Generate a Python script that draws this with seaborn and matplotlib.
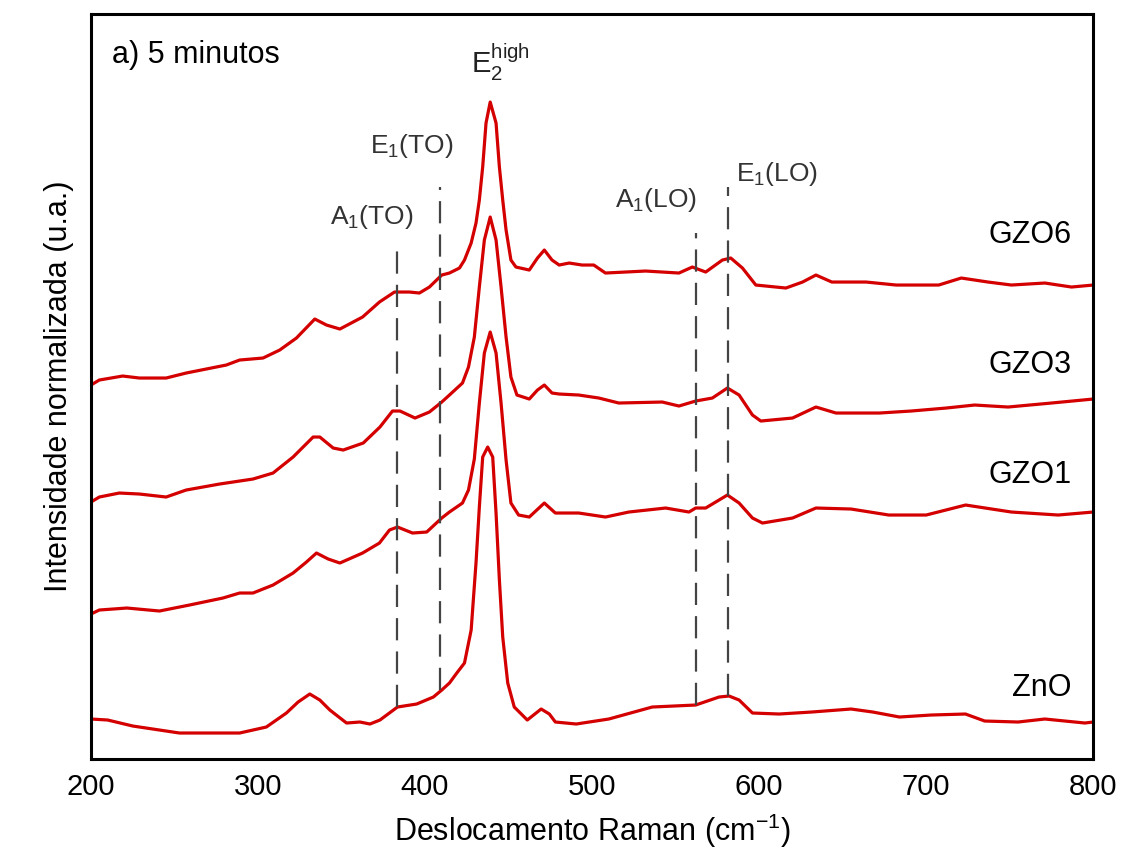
import numpy as np
import pandas as pd
import matplotlib
matplotlib.use('Agg')
import matplotlib.pyplot as plt
import seaborn as sns

# Raman spectra (x in cm-1, normalized intensity incl. offset)
zno_x = [200, 210, 225, 241, 253, 270, 289, 305, 317, 324, 331, 337, 343, 353, 361, 367, 373,
         383.5, 395, 405, 410, 414.6, 419, 423.6, 427.6, 430.5, 432.5, 434.5, 437.5, 440.5,
         442.5, 444.5, 446.5, 449.5, 453.4, 461.2, 469.5, 474.4, 478, 490.5, 510, 536, 562,
         576, 582, 588, 596, 612, 631.5, 655, 668, 684, 703, 723.5, 735, 755, 771, 795, 800]
zno_y = [0.40, 0.39, 0.33, 0.29, 0.26, 0.26, 0.26, 0.32, 0.46, 0.57, 0.65, 0.59, 0.49, 0.36,
         0.37, 0.35, 0.39, 0.52, 0.55, 0.62, 0.69, 0.76, 0.86, 0.96, 1.29, 1.96, 2.52, 3.02,
         3.12, 3.02, 2.46, 1.79, 1.22, 0.76, 0.52, 0.39, 0.50, 0.45, 0.37, 0.35, 0.40, 0.52,
         0.54, 0.62, 0.63, 0.59, 0.46, 0.45, 0.47, 0.50, 0.47, 0.42, 0.44, 0.45, 0.38, 0.37,
         0.40, 0.36, 0.37]

gzo1_x = [200, 205, 221.5, 241, 259, 279, 289, 297, 309, 321, 329, 335, 342, 349, 362.6, 372.7,
          378.7, 383.5, 392.5, 401, 410, 414.6, 422.4, 426, 429.5, 432.5, 435.5, 439, 442.5,
          445.5, 448.5, 451.4, 456, 462.4, 471.4, 478, 492, 508, 522, 544, 558, 562, 568, 581,
          588, 596, 602, 620, 634, 655, 677.6, 700, 723.6, 751, 779, 800]
gzo1_y = [1.45, 1.49, 1.51, 1.48, 1.54, 1.61, 1.66, 1.66, 1.74, 1.86, 1.97, 2.06, 2.00, 1.96,
          2.06, 2.16, 2.29, 2.32, 2.26, 2.27, 2.41, 2.47, 2.56, 2.69, 3.00, 3.56, 4.06, 4.27,
          4.06, 3.56, 2.99, 2.56, 2.44, 2.42, 2.56, 2.46, 2.46, 2.42, 2.47, 2.51, 2.47, 2.51,
          2.51, 2.64, 2.56, 2.41, 2.36, 2.41, 2.51, 2.50, 2.44, 2.44, 2.54, 2.47, 2.44, 2.47]

gzo3_x = [200, 205, 217, 229, 245, 257, 277, 297, 309, 321, 333, 337, 345, 351, 363, 373, 380.5,
          385, 394, 402.6, 410, 414.6, 422.4, 426, 429.5, 432.5, 435.5, 439, 442.5, 445.5,
          448.5, 451.4, 455, 462.4, 467.3, 471.4, 476, 480.3, 492, 504, 516, 542, 552, 562,
          572, 581, 588, 596, 601, 620, 634, 646, 672, 691, 712, 729, 749, 775, 800]
gzo3_y = [2.57, 2.62, 2.66, 2.65, 2.62, 2.69, 2.75, 2.80, 2.86, 3.02, 3.22, 3.22, 3.11, 3.09,
          3.16, 3.32, 3.48, 3.48, 3.41, 3.47, 3.57, 3.64, 3.76, 3.92, 4.22, 4.72, 5.19, 5.42,
          5.19, 4.72, 4.22, 3.82, 3.64, 3.60, 3.69, 3.74, 3.66, 3.65, 3.64, 3.61, 3.56, 3.57,
          3.53, 3.58, 3.61, 3.71, 3.64, 3.44, 3.38, 3.41, 3.52, 3.46, 3.46, 3.48, 3.51, 3.54,
          3.52, 3.56, 3.60]

gzo6_x = [200, 205, 219, 229, 245, 257, 281, 289, 303, 313, 323, 334, 341, 349, 362.6, 372.7,
          381.7, 390.7, 396.6, 402.6, 410, 414.6, 420.6, 423.6, 427.6, 430.5, 432.5, 434.5,
          436.5, 439, 442.5, 444.5, 446.5, 448.5, 451.4, 454.4, 462.4, 467.3, 471.4, 476,
          480.3, 486.3, 494, 501, 508, 532, 552, 560, 568, 578, 583, 590, 598, 616, 626, 634,
          643.5, 664, 682, 707.5, 721, 737, 751, 771, 787, 800]
gzo6_y = [3.74, 3.79, 3.83, 3.81, 3.81, 3.86, 3.94, 3.99, 4.01, 4.09, 4.21, 4.40, 4.34, 4.30,
          4.42, 4.57, 4.67, 4.67, 4.66, 4.72, 4.84, 4.86, 4.91, 4.99, 5.16, 5.36, 5.59, 5.92,
          6.36, 6.57, 6.36, 5.92, 5.59, 5.29, 4.99, 4.92, 4.89, 5.01, 5.09, 4.99, 4.94, 4.96,
          4.94, 4.94, 4.86, 4.88, 4.86, 4.92, 4.87, 4.99, 5.01, 4.91, 4.74, 4.71, 4.77, 4.84,
          4.77, 4.77, 4.74, 4.74, 4.81, 4.77, 4.74, 4.76, 4.72, 4.74]

samples = ['ZnO', 'GZO1', 'GZO3', 'GZO6']
sample_x = [zno_x, gzo1_x, gzo3_x, gzo6_x]
sample_y = [zno_y, gzo1_y, gzo3_y, gzo6_y]
label_y = [0.71, 2.84, 3.94, 5.24]

# Raman modes: position, dashed line range, label and label position
mode_pos = [383.5, 409, 562, 581.5]
mode_ymin = [0.52, 0.69, 0.54, 0.63]
mode_ymax = [5.11, 5.72, 5.26, 5.72]
mode_labels = ['A$_1$(TO)', 'E$_1$(TO)', 'A$_1$(LO)', 'E$_1$(LO)']
mode_label_x = [368, 392, 538, 610.5]
mode_label_y = [5.42, 6.13, 5.59, 5.85]

rows = []
for name, xs, ys in zip(samples, sample_x, sample_y):
    for a, b in zip(xs, ys):
        rows.append((name, a, b))
df = pd.DataFrame(rows, columns=['amostra', 'raman', 'intensidade'])

sns.set_style('white')
plt.rcParams['font.family'] = ['Liberation Sans', 'DejaVu Sans']
plt.rcParams['mathtext.fontset'] = 'custom'
plt.rcParams['mathtext.rm'] = 'Liberation Sans'
plt.rcParams['mathtext.it'] = 'Liberation Sans:italic'
plt.rcParams['text.color'] = 'black'
plt.rcParams['axes.labelcolor'] = 'black'
plt.rcParams['xtick.color'] = 'black'

fig = plt.figure(figsize=(11.23, 8.56), dpi=100)
ax = fig.add_axes([0.081, 0.1133, 0.8925, 0.8703])

for name in samples:
    sns.lineplot(data=df[df['amostra'] == name], x='raman', y='intensidade', ax=ax,
                 color='#d40000', lw=2.3, sort=False, estimator=None)

for p, y0, y1 in zip(mode_pos, mode_ymin, mode_ymax):
    ax.plot([p, p], [y0, y1], color='#444444', lw=1.6, dashes=(10, 5))

for lab, lx, ly in zip(mode_labels, mode_label_x, mode_label_y):
    ax.text(lx, ly, lab, ha='center', va='center', fontsize=19, color='#333333')
ax.text(445, 6.97, r'E$_2^{\mathrm{high}}$', ha='center', va='center', fontsize=21, color='#222222')

for name, ly in zip(samples, label_y):
    ax.text(787, ly, name, ha='right', va='center', fontsize=22, color='black')

ax.text(0.021, 0.945, 'a) 5 minutos', transform=ax.transAxes, fontsize=22,
        ha='left', va='center', color='black')

ax.set_xlim(200, 800)
ax.set_ylim(0, 7.45)
ax.set_xticks([200, 300, 400, 500, 600, 700, 800])
ax.set_yticks([])
ax.tick_params(axis='x', length=0, labelsize=21, pad=10, labelcolor='black')
ax.set_xlabel('Deslocamento Raman (cm$^{-1}$)', fontsize=22, labelpad=8)
ax.set_ylabel('Intensidade normalizada (u.a.)', fontsize=22, labelpad=12)
for s in ax.spines.values():
    s.set_visible(True)
    s.set_color('black')
    s.set_linewidth(2.2)

fig.savefig('out.png', dpi=100)
